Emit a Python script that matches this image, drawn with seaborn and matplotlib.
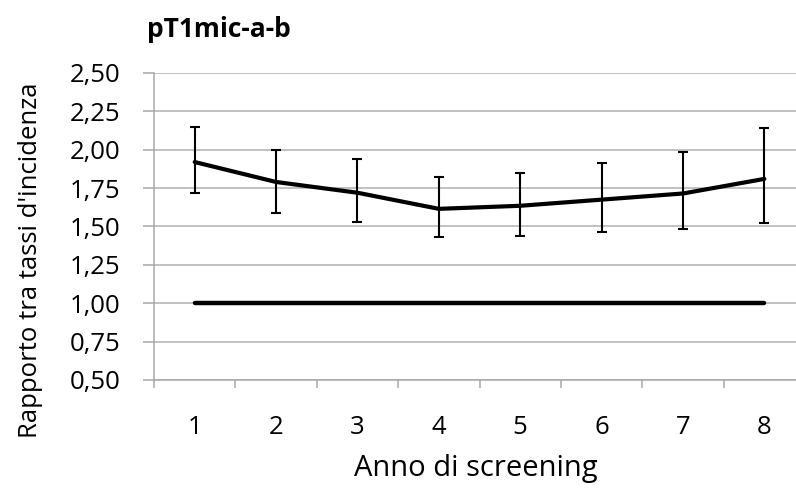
import matplotlib
matplotlib.use("Agg")
import matplotlib.pyplot as plt
from matplotlib.ticker import FixedLocator, FuncFormatter
import seaborn as sns
import pandas as pd
import numpy as np

# Incidence rate ratio by screening year, with confidence limits
anni = ["1", "2", "3", "4", "5", "6", "7", "8"]
rapporto = [1.92, 1.79, 1.72, 1.615, 1.635, 1.675, 1.715, 1.81]
limite_inf = [1.715, 1.59, 1.53, 1.43, 1.44, 1.463, 1.486, 1.522]
limite_sup = [2.147, 2.00, 1.94, 1.823, 1.849, 1.913, 1.983, 2.142]
riferimento = [1.0] * len(anni)

sns.set_theme(style="white")
plt.rcParams["font.family"] = ["Open Sans", "DejaVu Sans"]

df = pd.DataFrame({
    "pos": np.arange(len(anni)),
    "anno": anni,
    "rapporto": rapporto,
    "inf": limite_inf,
    "sup": limite_sup,
    "rif": riferimento,
})

W, H = 796, 491
fig = plt.figure(figsize=(W / 100, H / 100), dpi=100)
x0, x1, y_top, y_bot = 154, 805, 73, 380
ax = fig.add_axes([x0 / W, 1 - y_bot / H, (x1 - x0) / W, (y_bot - y_top) / H])

sns.lineplot(data=df, x="pos", y="rif", ax=ax, color="black", lw=3.2,
             solid_capstyle="round", zorder=3)
sns.lineplot(data=df, x="pos", y="rapporto", ax=ax, color="black", lw=3.0,
             zorder=4)
ax.errorbar(df["pos"], df["rapporto"],
            yerr=[df["rapporto"] - df["inf"], df["sup"] - df["rapporto"]],
            fmt="none", ecolor="black", elinewidth=1.5, capsize=3.4,
            capthick=1.5, zorder=5)

ax.set_xlim(-0.5, len(anni) - 0.5)
ax.set_ylim(0.5, 2.5)

ax.set_yticks(np.arange(0.5, 2.51, 0.25))
ax.yaxis.set_major_formatter(FuncFormatter(lambda v, p: f"{v:.2f}".replace(".", ",")))
ax.set_xticks(df["pos"])
ax.set_xticklabels(anni)
ax.xaxis.set_minor_locator(FixedLocator(np.arange(-0.5, len(anni), 1.0)))

ax.grid(axis="y", color="#b0b0b0", lw=1.1, zorder=0)
ax.set_axisbelow(True)
for side in ["top", "right"]:
    ax.spines[side].set_visible(False)
for side in ["left", "bottom"]:
    ax.spines[side].set_color("#a8a8a8")
    ax.spines[side].set_linewidth(1.1)

ax.tick_params(axis="y", which="major", left=True, length=8, width=1.1,
               color="#a8a8a8", pad=16, labelsize=18.5, labelcolor="black")
ax.tick_params(axis="x", which="major", bottom=True, length=0, pad=25,
               labelsize=18.5, labelcolor="black")
ax.tick_params(axis="x", which="minor", bottom=True, length=6, width=1.1,
               color="#a8a8a8")

ax.set_xlabel("Anno di screening", fontsize=21, color="black")
ax.xaxis.label.set_va("baseline")
ax.xaxis.set_label_coords((476 - x0) / (x1 - x0), (y_bot - 476) / (y_bot - y_top))

ax.set_ylabel("Rapporto tra tassi d'incidenza", fontsize=18.5, color="black")
ax.yaxis.label.set_va("baseline")
ax.yaxis.set_label_coords((37 - x0) / (x1 - x0), (y_bot - 260) / (y_bot - y_top))

fig.text(147 / W, 1 - 37 / H, "pT1mic-a-b", fontsize=19,
         fontweight="bold", va="baseline", ha="left", color="black")

fig.savefig("out.png", dpi=100, facecolor="white")
